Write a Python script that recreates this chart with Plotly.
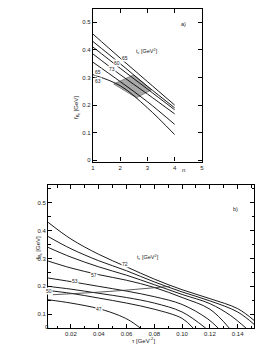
import plotly.graph_objects as go

# ---------- panel a) : f_Bc vs n ----------
a_n = [1, 2, 3, 4]
a_f1 = [0.457, 0.370, 0.285, 0.200]
a_f2 = [0.430, 0.350, 0.268, 0.190]
a_f3 = [0.410, 0.333, 0.258, 0.183]
a_f4 = [0.385, 0.310, 0.240, 0.168]
a_f5 = [0.355, 0.285, 0.212, 0.130]
a_f6 = [0.310, 0.270, 0.190, 0.093]
a_band_n = [1.76, 2.49, 3.15, 2.60, 1.76]
a_band_f = [0.276, 0.309, 0.255, 0.226, 0.276]
a_lab_txt = ["65", "60", "73", "65", "63"]
a_lab_n = [2.17, 1.90, 1.70, 1.20, 1.20]
a_lab_f = [0.370, 0.352, 0.331, 0.318, 0.287]

# ---------- panel b) : f_Bc vs tau ----------
b_t1 = [0.0035, 0.02, 0.04, 0.06, 0.08, 0.10, 0.12, 0.14, 0.152]
b_f1 = [0.430, 0.370, 0.315, 0.270, 0.226, 0.188, 0.156, 0.120, 0.077]
b_t2 = [0.0035, 0.02, 0.04, 0.06, 0.08, 0.10, 0.12, 0.14, 0.152]
b_f2 = [0.379, 0.335, 0.292, 0.256, 0.216, 0.180, 0.148, 0.108, 0.063]
b_t3 = [0.0035, 0.02, 0.04, 0.06, 0.08, 0.10, 0.12, 0.135, 0.146]
b_f3 = [0.340, 0.305, 0.270, 0.240, 0.206, 0.171, 0.138, 0.095, 0.050]
b_t4 = [0.0035, 0.02, 0.04, 0.06, 0.08, 0.10, 0.12, 0.134]
b_f4 = [0.291, 0.266, 0.242, 0.222, 0.196, 0.160, 0.118, 0.050]
b_t5 = [0.0035, 0.02, 0.04, 0.06, 0.08, 0.10, 0.118, 0.126]
b_f5 = [0.230, 0.217, 0.200, 0.183, 0.163, 0.135, 0.085, 0.050]
b_t6 = [0.0035, 0.02, 0.04, 0.06, 0.08, 0.10, 0.117]
b_f6 = [0.200, 0.190, 0.175, 0.160, 0.140, 0.108, 0.050]
b_t7 = [0.0035, 0.02, 0.04, 0.06, 0.08, 0.10, 0.108]
b_f7 = [0.185, 0.175, 0.158, 0.140, 0.118, 0.085, 0.050]
b_t8 = [0.0035, 0.02, 0.04, 0.055, 0.063, 0.070]
b_f8 = [0.152, 0.140, 0.120, 0.095, 0.075, 0.050]
b_tr = [0.007, 0.048, 0.091]
b_fr = [0.170, 0.182, 0.200]
b_lab_txt = ["72", "57", "53", "50", "47"]
b_lab_t = [0.059, 0.0365, 0.0228, 0.0045, 0.040]
b_lab_f = [0.280, 0.241, 0.220, 0.184, 0.119]

FONT = "Liberation Sans"
fig = go.Figure()

fig.add_trace(go.Scatter(x=a_band_n, y=a_band_f, mode="lines", fill="toself",
                         fillcolor="#a8a8a8", line=dict(color="#555", width=0.6),
                         xaxis="x", yaxis="y", hoverinfo="skip", showlegend=False))
for f in [a_f1, a_f2, a_f3, a_f4, a_f5, a_f6]:
    fig.add_trace(go.Scatter(x=a_n, y=f, mode="lines",
                             line=dict(color="black", width=0.9, shape="spline"),
                             xaxis="x", yaxis="y", showlegend=False))

for t, f in [(b_t1, b_f1), (b_t2, b_f2), (b_t3, b_f3), (b_t4, b_f4),
             (b_t5, b_f5), (b_t6, b_f6), (b_t7, b_f7), (b_t8, b_f8)]:
    fig.add_trace(go.Scatter(x=t, y=f, mode="lines",
                             line=dict(color="black", width=0.9, shape="spline"),
                             xaxis="x2", yaxis="y2", showlegend=False))
fig.add_trace(go.Scatter(x=b_tr, y=b_fr, mode="lines",
                         line=dict(color="#333", width=0.8, shape="spline"),
                         xaxis="x2", yaxis="y2", showlegend=False))

ann = []
for s, x, y in zip(a_lab_txt, a_lab_n, a_lab_f):
    ann.append(dict(x=x, y=y, xref="x", yref="y", text=s, showarrow=False,
                    font=dict(size=5, color="#222", family=FONT),
                    bgcolor="white", borderpad=0))
for s, x, y in zip(b_lab_txt, b_lab_t, b_lab_f):
    ann.append(dict(x=x, y=y, xref="x2", yref="y2", text=s, showarrow=False,
                    font=dict(size=5, color="#222", family=FONT),
                    bgcolor="white", borderpad=0))

ann += [
    dict(x=2.98, y=0.394, xref="x", yref="y", text="t<sub>c</sub> [GeV<sup>2</sup>]",
         showarrow=False, font=dict(size=5.5, family=FONT, color="#222")),
    dict(x=0.0758, y=0.304, xref="x2", yref="y2", text="t<sub>c</sub> [GeV<sup>2</sup>]",
         showarrow=False, font=dict(size=5.5, family=FONT, color="#222")),
    dict(x=188.3 / 280, y=1 - 19 / 357, xref="paper", yref="paper", text="a)",
         showarrow=False, font=dict(size=5.5, family=FONT, color="#222")),
    dict(x=241.7 / 280, y=1 - 210 / 357, xref="paper", yref="paper", text="b)",
         showarrow=False, font=dict(size=5.5, family=FONT, color="#222")),
    dict(x=184 / 280, y=1 - 170.5 / 357, xref="paper", yref="paper", text="n",
         showarrow=False, font=dict(size=6, family=FONT, color="#222")),
    dict(x=41.8 / 280, y=1 - 334 / 357, xref="paper", yref="paper", text="0",
         showarrow=False, font=dict(size=6, family=FONT, color="#222")),
    dict(x=70 / 280, y=1 - 95 / 357, xref="paper", yref="paper",
         text="f<sub>B<sub>c</sub></sub> [GeV]", textangle=-90,
         showarrow=False, font=dict(size=6, family=FONT, color="#222")),
    dict(x=31.7 / 280, y=1 - 263 / 357, xref="paper", yref="paper",
         text="f<sub>B<sub>c</sub></sub> [GeV]", textangle=-90,
         showarrow=False, font=dict(size=6, family=FONT, color="#222")),
    dict(x=143.3 / 280, y=1 - 348 / 357, xref="paper", yref="paper",
         text="τ [GeV<sup>-2</sup>]",
         showarrow=False, font=dict(size=6, family=FONT, color="#222")),
]

axcommon = dict(showline=True, linecolor="black", linewidth=1.2, mirror="ticks",
                ticks="inside", tickcolor="black", tickwidth=1, showgrid=False,
                zeroline=False, tickfont=dict(size=6, family=FONT, color="#222"))

fig.update_layout(
    width=280, height=357, margin=dict(l=0, r=0, t=0, b=0),
    paper_bgcolor="white", plot_bgcolor="white", showlegend=False,
    annotations=ann,
    xaxis=dict(domain=[92.3 / 280, 202.7 / 280], range=[1, 5], anchor="y",
               tickvals=[1, 2, 3, 4, 5], ticklen=4, **axcommon),
    yaxis=dict(domain=[1 - 162.5 / 357, 1 - 9.3 / 357], range=[-0.005, 0.547], anchor="x",
               tickvals=[0, 0.1, 0.2, 0.3, 0.4, 0.5],
               ticktext=["0", "0.1", "0.2", "0.3", "0.4", "0.5"], ticklen=4, **axcommon),
    xaxis2=dict(domain=[46.7 / 280, 256 / 280], range=[0.0035, 0.152], anchor="y2",
                tickvals=[0.02, 0.04, 0.06, 0.08, 0.10, 0.12, 0.14],
                ticktext=["0.02", "0.04", "0.06", "0.08", "0.10", "0.12", "0.14"],
                ticklen=4, minor=dict(dtick=0.01, ticklen=2.5, ticks="inside",
                                      tickcolor="black"), **axcommon),
    yaxis2=dict(domain=[1 - 330 / 357, 1 - 186 / 357], range=[0.05, 0.564], anchor="x2",
                tickvals=[0.1, 0.2, 0.3, 0.4, 0.5], ticklen=4,
                minor=dict(tickvals=[0.15, 0.25, 0.35, 0.45, 0.55], ticklen=2.5,
                           ticks="inside", tickcolor="black"), **axcommon),
)

fig.write_html("out.html", config={"displayModeBar": False},
               post_script="document.body.style.margin='0';")
